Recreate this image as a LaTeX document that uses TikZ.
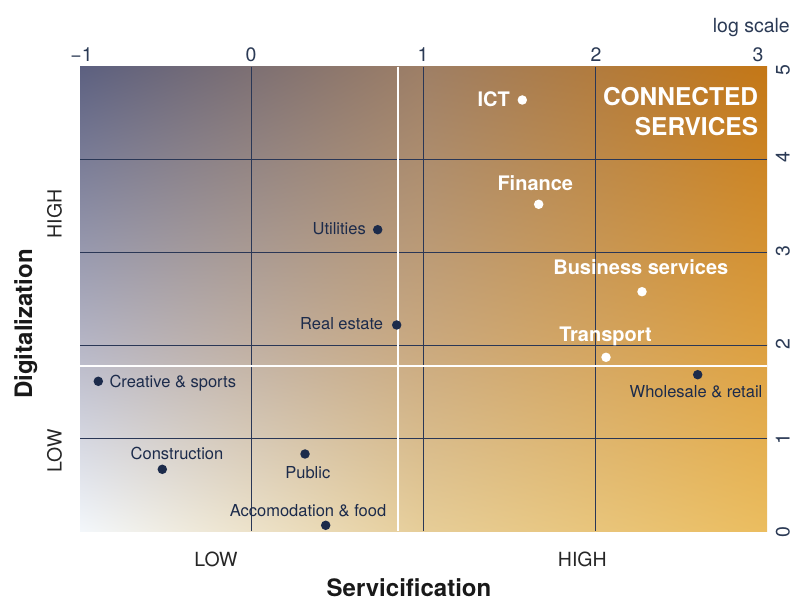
\documentclass[tikz,border=0pt]{standalone}
\usepackage{fontspec}
\setmainfont{TeX Gyre Heros}
\usetikzlibrary{shadings}
\definecolor{navy}{HTML}{1C2B4B}
\definecolor{gridc}{HTML}{2A3756}
\definecolor{tickc}{HTML}{2B3A55}
% field colours sampled on a 3x3 grid
\definecolor{cTL}{HTML}{5C6080}
\definecolor{cTM}{HTML}{9E7F66}
\definecolor{cTR}{HTML}{C47716}
\definecolor{cML}{HTML}{B6B6C6}
\definecolor{cMM}{HTML}{CAA97F}
\definecolor{cMR}{HTML}{DDA040}
\definecolor{cBL}{HTML}{F3F7FB}
\definecolor{cBM}{HTML}{E6CD98}
\definecolor{cBR}{HTML}{EBBD5F}
\tikzset{
  dotdark/.style={circle,fill=navy,inner sep=0pt,minimum size=9.5pt},
  dotwhite/.style={circle,fill=white,inner sep=0pt,minimum size=9.5pt},
  lbldark/.style={inner sep=0pt,text=navy,font=\fontsize{16.5}{19}\selectfont},
  lblwhite/.style={inner sep=0pt,text=white,font=\fontsize{20}{24}\selectfont\bfseries},
  lblbig/.style={inner sep=0pt,text=white,font=\fontsize{24.5}{28}\selectfont\bfseries},
  ticklbl/.style={inner sep=0pt,text=tickc,font=\fontsize{19.5}{23}\selectfont},
  lohi/.style={inner sep=0pt,text=black!85,font=\fontsize{19.5}{23}\selectfont},
  axtitle/.style={inner sep=0pt,text=black!90,font=\fontsize{24}{28}\selectfont\bfseries},
  gridline/.style={draw=gridc,line width=1pt},
  wline/.style={draw=white,line width=2.2pt},
}
\begin{document}
\begin{tikzpicture}[x=1pt,y=-1pt]
\useasboundingbox (0,0) rectangle (793,601);
% background quadrant field (piecewise bilinear, seams under grid lines)
\shade[upper left=cTL,upper right=cTM,lower left=cML,lower right=cMM] (80,66.7) rectangle (423.8,345.6);
\shade[upper left=cTM,upper right=cTR,lower left=cMM,lower right=cMR] (423.2,66.7) rectangle (767,345.6);
\shade[upper left=cML,upper right=cMM,lower left=cBL,lower right=cBM] (80,345) rectangle (423.8,531);
\shade[upper left=cMM,upper right=cMR,lower left=cBM,lower right=cBR] (423.2,345) rectangle (767,531);
% grid
\foreach \gx in {251.5,423.5,595.5} \draw[gridline] (\gx,66.7) -- (\gx,531);
\foreach \gy in {159.5,252.4,345.3,438.2} \draw[gridline] (80,\gy) -- (767,\gy);
% quadrant dividers
\draw[wline] (397.7,66.7) -- (397.7,531);
\draw[wline] (80,366) -- (767,366);
% top axis labels
\node[ticklbl,anchor=base] (tm1) at (81.5,61.7) {−1};
\node[ticklbl,anchor=base] (t0) at (251,61.7) {0};
\node[ticklbl,anchor=base] (t1) at (423,61.7) {1};
\node[ticklbl,anchor=base] (t2) at (596,61.7) {2};
\node[ticklbl,anchor=base] (t3) at (758,61.7) {3};
\node[ticklbl,anchor=base east] (logs) at (790,33) {log scale};
% right axis labels
\node[ticklbl,rotate=90,anchor=base] (r5) at (789.5,70) {5};
\node[ticklbl,rotate=90,anchor=base] (r4) at (789.5,157.5) {4};
\node[ticklbl,rotate=90,anchor=base] (r3) at (789.5,251) {3};
\node[ticklbl,rotate=90,anchor=base] (r2) at (789.5,344.5) {2};
\node[ticklbl,rotate=90,anchor=base] (r1) at (789.5,439) {1};
\node[ticklbl,rotate=90,anchor=base] (r0) at (789.5,532) {0};
% axis titles
\node[lohi,rotate=90,anchor=base] (yhigh) at (61.7,214) {HIGH};
\node[lohi,rotate=90,anchor=base] (ylow) at (61.7,451) {LOW};
\node[axtitle,rotate=90,anchor=base] (ytitle) at (32,324) {Digitalization};
\node[lohi,anchor=base] (xlow) at (216,566.7) {LOW};
\node[lohi,anchor=base] (xhigh) at (582.3,566.7) {HIGH};
\node[axtitle,anchor=base] (xtitle) at (409,596.3) {Servicification};
% quadrant title
\node[lblbig,anchor=base east] (cs1) at (758.3,106) {CONNECTED};
\node[lblbig,anchor=base east] (cs2) at (758.3,136) {SERVICES};
% white points
\node[dotwhite] (ict) at (522.3,100) {};
\node[lblwhite,anchor=base east] (ictl) at (510,106.5) {ICT};
\node[dotwhite] (fin) at (538.7,204.3) {};
\node[lblwhite,anchor=base] (finl) at (535.3,191) {Finance};
\node[dotwhite] (bus) at (642,291.7) {};
\node[lblwhite,anchor=base] (busl) at (640.8,275) {Business services};
\node[dotwhite] (tra) at (606,357.3) {};
\node[lblwhite,anchor=base] (tral) at (605.5,341.7) {Transport};
% dark points
\node[dotdark] (whr) at (697.7,374.7) {};
\node[lbldark,anchor=base] (whrl) at (696,397.7) {Wholesale \& retail};
\node[dotdark] (uti) at (377.7,229.7) {};
\node[lbldark,anchor=base east] (util) at (366,234.3) {Utilities};
\node[dotdark] (rea) at (396.7,325) {};
\node[lbldark,anchor=base east] (real) at (383.3,330) {Real estate};
\node[dotdark] (cre) at (98.3,381.3) {};
\node[lbldark,anchor=base west] (crel) at (109.3,387.3) {Creative \& sports};
\node[dotdark] (con) at (162.3,469.3) {};
\node[lbldark,anchor=base] (conl) at (177,460) {Construction};
\node[dotdark] (pub) at (305,454) {};
\node[lbldark,anchor=base] (publ) at (307.8,479) {Public};
\node[dotdark] (acc) at (325.7,525.3) {};
\node[lbldark,anchor=base] (accl) at (308,516) {Accomodation \& food};
\end{tikzpicture}
\end{document}
